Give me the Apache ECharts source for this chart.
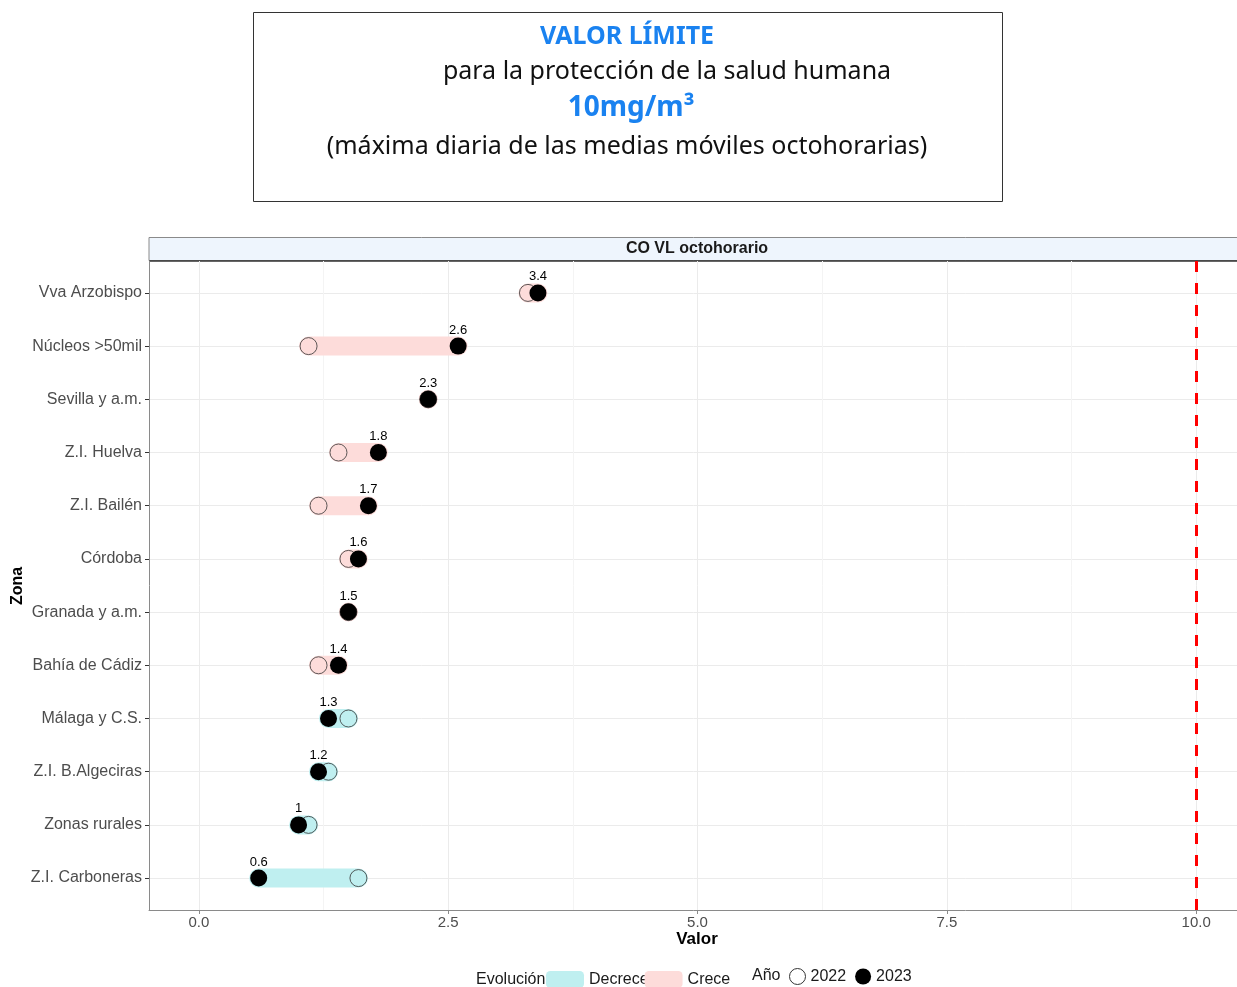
<!DOCTYPE html>
<html><head><meta charset="utf-8">
<script src="https://cdn.jsdelivr.net/npm/echarts@6/dist/echarts.min.js"></script>
<style>html,body{margin:0;padding:0;background:#fff}#c{width:1237px;height:987px}</style>
</head><body><div id="c"></div>
<script>
const zonas = ['Vva Arzobispo','Núcleos >50mil','Sevilla y a.m.','Z.I. Huelva','Z.I. Bailén','Córdoba','Granada y a.m.','Bahía de Cádiz','Málaga y C.S.','Z.I. B.Algeciras','Zonas rurales','Z.I. Carboneras'];
const valores2022 = [3.3,1.1,2.3,1.4,1.2,1.5,1.5,1.2,1.5,1.3,1.1,1.6];
const valores2023 = [3.4,2.6,2.3,1.8,1.7,1.6,1.5,1.4,1.3,1.2,1.0,0.6];
const xTicks = [0,2.5,5,7.5,10];
const xMinorTicks = [1.25,3.75,6.25,8.75];
const valorLimite = 10;
const yTicks = zonas.map((_, i) => i);

const crece = [], decrece = [];
zonas.forEach((z, i) => {
  const row = [valores2022[i], valores2023[i], i];
  if (valores2023[i] >= valores2022[i]) crece.push(row); else decrece.push(row);
});
const pts2022 = zonas.map((z, i) => [valores2022[i], i]);
const pts2023 = zonas.map((z, i) => [valores2023[i], i]);

function bandItem(params, api) {
  const a = api.coord([api.value(0), api.value(2)]);
  const b = api.coord([api.value(1), api.value(2)]);
  let x2 = b[0];
  if (Math.abs(x2 - a[0]) < 0.01) x2 = a[0] + 0.02;
  return {type: 'line', shape: {x1: a[0], y1: a[1], x2: x2, y2: b[1]},
    style: {stroke: api.visual('color'), lineWidth: 19, lineCap: 'round'}};
}

const chart = echarts.init(document.getElementById('c'), null, {renderer: 'canvas'});
const axisFont = 'Liberation Sans, Arial, sans-serif';
const titleFont = '"Noto Sans", "Open Sans", sans-serif';
chart.setOption({
  backgroundColor: '#fff',
  animation: false,
  grid: {left: 149, width: 1097, top: 261, bottom: 77, containLabel: false, outerBoundsMode: 'none'},
  xAxis: {
    type: 'value', min: -0.5, max: 10.5,
    axisLine: {show: true, onZero: false, lineStyle: {color: '#8a8a8a', width: 1}},
    axisTick: {show: true, length: 4, lineStyle: {color: '#8a8a8a'}, customValues: xTicks},
    axisLabel: {customValues: xTicks, color: '#4d4d4d', fontSize: 15, fontFamily: axisFont, margin: 5,
      formatter: v => v.toFixed(1)},
    splitLine: {show: true, lineStyle: {color: '#ebebeb', width: 1}}
  },
  yAxis: {
    type: 'value', min: -0.6, max: 11.6, inverse: true,
    axisLine: {show: true, onZero: false, lineStyle: {color: '#8a8a8a', width: 1}},
    axisTick: {show: true, length: 4, lineStyle: {color: '#333'}, customValues: yTicks},
    axisLabel: {customValues: yTicks, color: '#4d4d4d', fontSize: 16, fontFamily: axisFont, margin: 7,
      formatter: v => zonas[Math.round(v)] || ''},
    splitLine: {show: true, lineStyle: {color: '#ebebeb', width: 1}}
  },
  legend: [
    {data: ['Decrece', 'Crece'], left: 546, top: 971, padding: 0, orient: 'horizontal', icon: 'roundRect',
      itemWidth: 38, itemHeight: 17, itemGap: -4, selectedMode: false,
      textStyle: {fontSize: 16, color: '#1a1a1a', fontFamily: axisFont}},
    {data: [{name: '2022', itemStyle: {borderWidth: 1, borderColor: '#333'}}, '2023'], left: 789, top: 968, padding: 0,
      orient: 'horizontal', icon: 'circle',
      itemWidth: 16, itemHeight: 16, itemGap: 9, selectedMode: false,
      textStyle: {fontSize: 16, color: '#1a1a1a', fontFamily: axisFont}}
  ],
  graphic: [
    {type: 'rect', shape: {x: 253.5, y: 12.5, width: 749, height: 189}, style: {fill: 'none', stroke: '#333', lineWidth: 1}},
    {type: 'text', x: 627, y: 37, style: {text: 'VALOR LÍMITE', fill: '#1a82f0', font: 'bold 25px ' + titleFont, textAlign: 'center', textVerticalAlign: 'middle'}},
    {type: 'text', x: 667, y: 72, style: {text: 'para la protección de la salud humana', fill: '#111', font: '25px ' + titleFont, textAlign: 'center', textVerticalAlign: 'middle'}},
    {type: 'text', x: 631, y: 108, style: {text: '10mg/m³', fill: '#1a82f0', font: 'bold 28px ' + titleFont, textAlign: 'center', textVerticalAlign: 'middle'}},
    {type: 'text', x: 627, y: 147, style: {text: '(máxima diaria de las medias móviles octohorarias)', fill: '#111', font: '25px ' + titleFont, textAlign: 'center', textVerticalAlign: 'middle'}},
    {type: 'rect', shape: {x: 149, y: 237.5, width: 1100, height: 23}, style: {fill: '#eef5fd', stroke: '#8a8a8a', lineWidth: 1}},
    {type: 'line', shape: {x1: 149, y1: 261, x2: 1240, y2: 261}, style: {stroke: '#333', lineWidth: 1.5}},
    {type: 'text', x: 697, y: 249, style: {text: 'CO VL octohorario', fill: '#1a1a1a', font: 'bold 16px ' + axisFont, textAlign: 'center', textVerticalAlign: 'middle'}},
    {type: 'text', x: 697, y: 939, style: {text: 'Valor', fill: '#000', font: 'bold 17px ' + axisFont, textAlign: 'center', textVerticalAlign: 'middle'}},
    {type: 'text', x: 18, y: 586, rotation: Math.PI / 2, style: {text: 'Zona', fill: '#000', font: 'bold 16px ' + axisFont, textAlign: 'center', textVerticalAlign: 'middle'}},
    {type: 'text', x: 476, y: 980, style: {text: 'Evolución', fill: '#1a1a1a', font: '16px ' + axisFont, textAlign: 'left', textVerticalAlign: 'middle'}},
    {type: 'text', x: 752, y: 976, style: {text: 'Año', fill: '#1a1a1a', font: '16px ' + axisFont, textAlign: 'left', textVerticalAlign: 'middle'}}
  ],
  series: [
    {name: 'Decrece', type: 'custom', renderItem: bandItem, data: decrece, encode: {x: [0, 1], y: 2},
      itemStyle: {color: '#bfeff0'}, z: 2,
      markLine: {silent: true, symbol: 'none', z: 1, label: {show: false},
        lineStyle: {color: '#f4f4f4', width: 1, type: 'solid'},
        data: xMinorTicks.map(v => ({xAxis: v}))}},
    {name: 'Crece', type: 'custom', renderItem: bandItem, data: crece, encode: {x: [0, 1], y: 2},
      itemStyle: {color: '#fddcda'}, z: 2,
      markLine: {silent: true, symbol: 'none', z: 3, label: {show: false},
        lineStyle: {color: '#ff0000', width: 3, type: [11, 11]},
        data: [{xAxis: valorLimite}]}},
    {name: '2022', type: 'scatter', data: pts2022, symbol: 'circle', symbolSize: 17, z: 4,
      itemStyle: {color: 'rgba(255,255,255,0)', borderColor: '#333', borderWidth: 0.8, opacity: 1}},
    {name: '2023', type: 'scatter', data: pts2023, symbol: 'circle', symbolSize: 17, z: 5,
      itemStyle: {color: '#000', opacity: 1},
      label: {show: true, position: 'top', distance: 1, color: '#000', fontSize: 13, fontFamily: axisFont,
        formatter: p => String(p.value[0])}}
  ]
});
</script></body></html>
